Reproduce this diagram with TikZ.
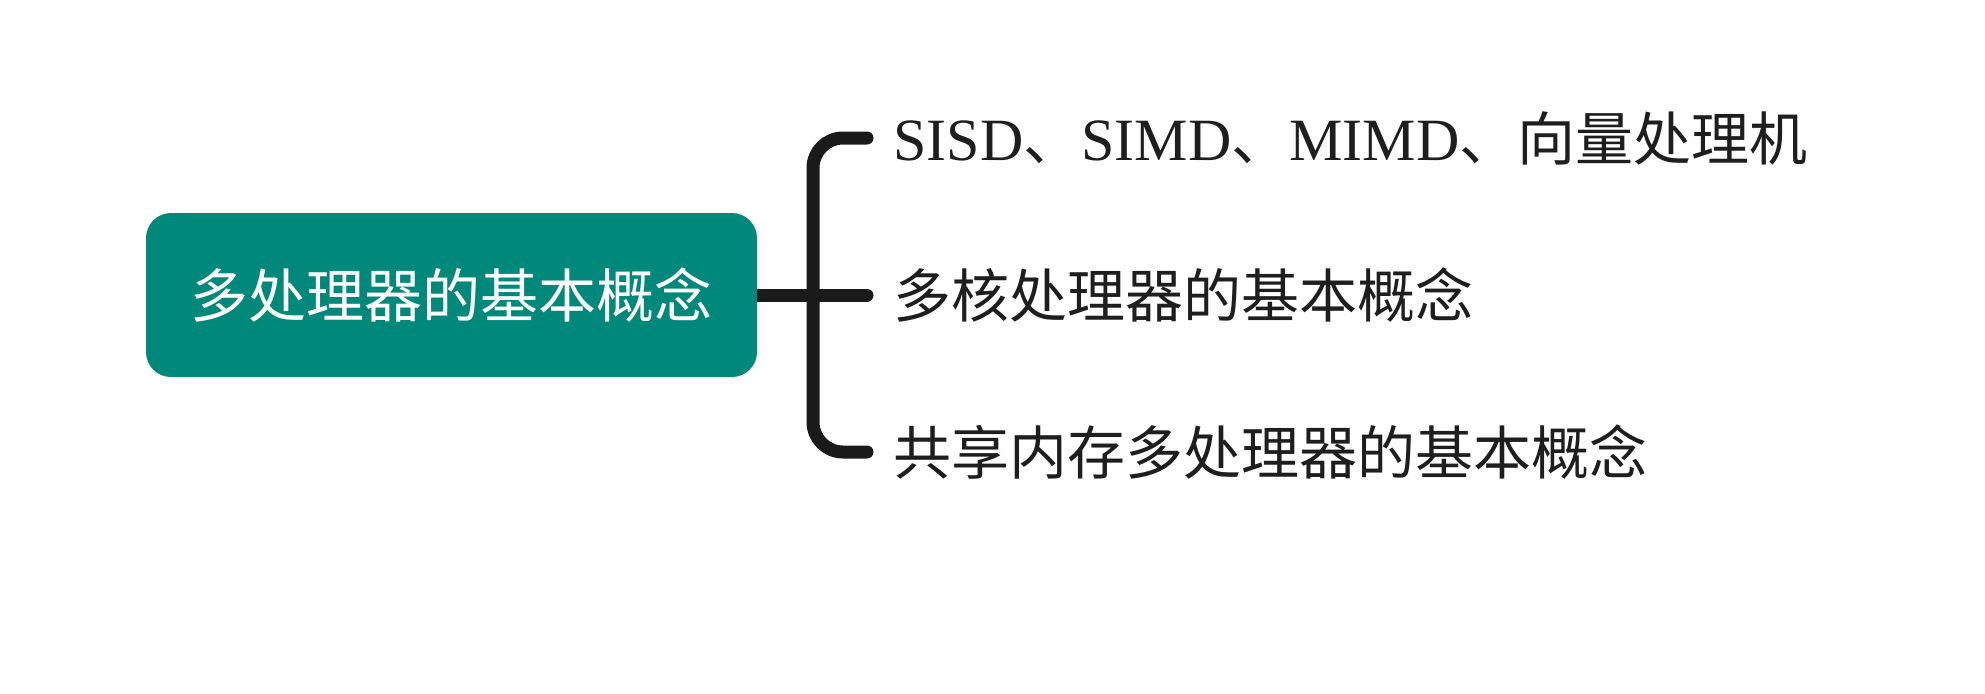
\documentclass[tikz,border=0pt]{standalone}
\usepackage{fontspec}
\setmainfont{Liberation Serif}
\newfontfamily\cjk{Noto Sans CJK SC}
\definecolor{teal1}{RGB}{0,137,123}
\definecolor{ink}{RGB}{26,26,26}
\definecolor{txt}{RGB}{30,30,30}
\newcommand\lat[1]{{\rmfamily\fontsize{30}{30}\selectfont #1}}
\begin{document}
\begin{tikzpicture}[x=0.5pt,y=-0.5pt,
  rootbox/.style={fill=teal1,rounded corners=12.5pt,minimum width=305.5pt,minimum height=82pt,inner sep=0pt,text=white,font=\cjk\fontsize{29}{30}\selectfont},
  leaf/.style={anchor=west,inner sep=0pt,text=txt,font=\cjk\fontsize{29}{30}\selectfont},
  conn/.style={draw=ink,line width=6.5pt,line cap=round},
  bconn/.style={draw=ink,line width=6.5pt,line cap=round,rounded corners=15pt}]
\useasboundingbox (0,0) rectangle (1985,693);
\fill[white] (0,0) rectangle (1985,693);
\node[rootbox] (root) at (451.5,295) {多处理器的基本概念};
\node[leaf] (t1) at (893,138) {\lat{SISD}、\lat{SIMD}、\lat{MIMD}、向量处理机};
\node[leaf] (t2) at (893,295) {多核处理器的基本概念};
\node[leaf] (t3) at (893,452) {共享内存多处理器的基本概念};
\coordinate (j) at (813,295);
\coordinate (vt) at (813,138);
\coordinate (vb) at (813,452);
\coordinate (b1) at (867,138);
\coordinate (b2) at (867,295);
\coordinate (b3) at (867,452);
\draw[conn,line cap=butt] (root.east) -- (j);
\draw[conn] (j) -- (b2);
\draw[bconn] (b1) -- (vt) -- (vb) -- (b3);
\end{tikzpicture}
\end{document}
